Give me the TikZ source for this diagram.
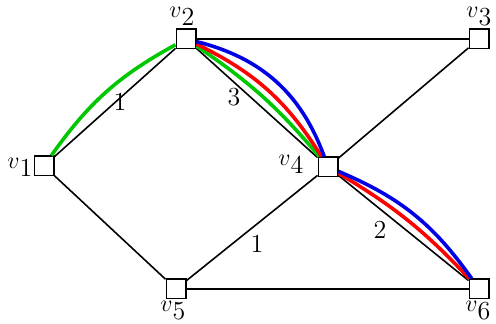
\documentclass[tikz,border=0pt]{standalone}
\usepackage{xcolor}
\definecolor{pgreen}{RGB}{0,200,0}
\definecolor{pred}{RGB}{255,0,0}
\definecolor{pblue}{RGB}{0,0,230}
\newcommand\vlab[1]{$v$\raisebox{-4pt}{#1}}
\begin{document}
\begin{tikzpicture}[x=0.5pt,y=-0.5pt,
  font=\fontsize{13}{15}\selectfont,
  vbox/.style={draw,fill=white,rectangle,minimum size=9.6pt,inner sep=0pt,line width=0.9pt},
  vname/.style={inner sep=0pt,anchor=base west},
  elab/.style={inner sep=0pt},
  edge/.style={line width=0.8pt},
  path/.style={line width=1.8pt}]
\useasboundingbox (0,0) rectangle (496,324);
\node[vbox] (v1) at (44,166) {};
\node[vbox] (v2) at (186,39) {};
\node[vbox] (v3) at (479,39) {};
\node[vbox] (v4) at (328,167) {};
\node[vbox] (v5) at (176,289) {};
\node[vbox] (v6) at (479,289) {};
\node[vname] (l1) at (7,169) {\vlab{1}};
\node[vname] (l2) at (169,18) {\vlab{2}};
\node[vname] (l3) at (466,18) {\vlab{3}};
\node[vname] (l4) at (278,166) {\vlab{4}};
\node[vname] (l5) at (160,312) {\vlab{5}};
\node[vname] (l6) at (465,312) {\vlab{6}};
\draw[edge] (v1) -- (v2);
\draw[edge] (v2) -- (v3);
\draw[edge] (v2) -- (v4);
\draw[edge] (v3) -- (v4);
\draw[edge] (v1) -- (v5);
\draw[edge] (v5) -- (v4);
\draw[edge] (v5) -- (v6);
\draw[edge] (v4) -- (v6);
\node[elab] (e12) at (120,102) {1};
\node[elab] (e24) at (234,97) {3};
\node[elab] (e54) at (257,244) {1};
\node[elab] (e46) at (380,230) {2};
\draw[path,pgreen] (v1) to[bend left=13] (v2);
\draw[path,pgreen] (v2) to[bend left=8] (v4);
\draw[path,pred] (v2) to[bend left=16] (v4);
\draw[path,pblue] (v2) to[bend left=28] (v4);
\draw[path,pred] (v4) to[bend left=8] (v6);
\draw[path,pblue] (v4) to[bend left=16] (v6);
\end{tikzpicture}
\end{document}
